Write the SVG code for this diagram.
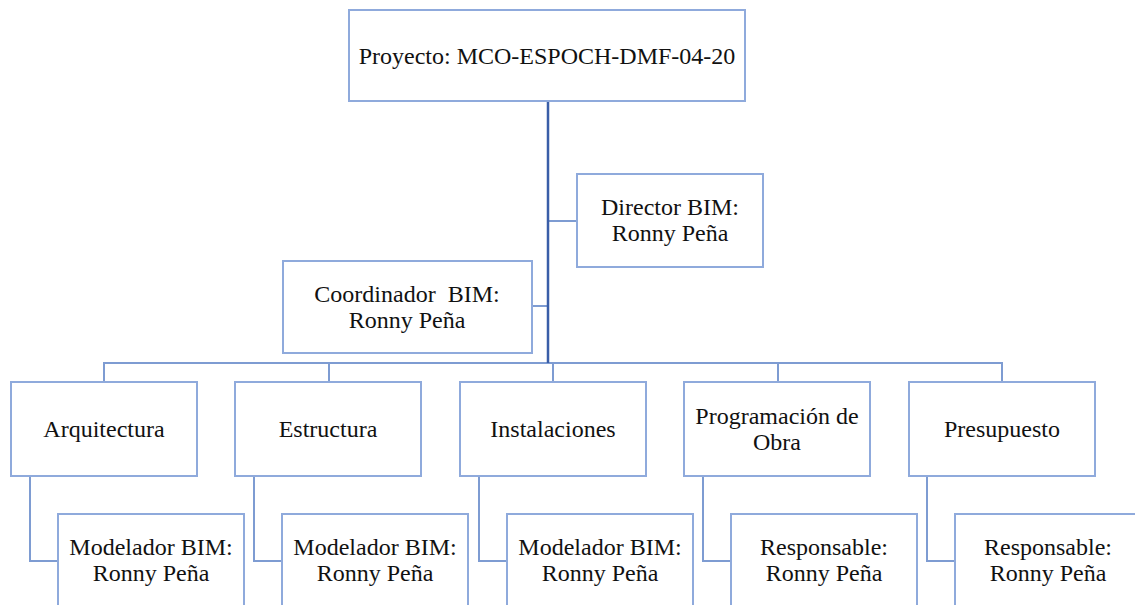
<svg xmlns="http://www.w3.org/2000/svg" width="1135" height="605" viewBox="0 0 1135 605">
<style>
.box{fill:#fff;stroke:#8FAADC;stroke-width:2}
.c{fill:none;stroke:#7E9CD2;stroke-width:2}
.main{fill:none;stroke:#3A5EA8;stroke-width:2.5}
.t{font-size:24px;fill:#111;text-anchor:middle}
</style>
<rect width="1135" height="605" fill="#fff"/>
<g id="connectors">
<path class="c" d="M548 221H577M532 306H548"/>
<path class="c" d="M104 382V363H1002V382M329 363V382M553 363V382M778 363V382"/>
<path class="c" d="M30 476V561H58M254 476V561H282M479 476V561H507M703 476V561H731M927 476V561H955"/>
<path class="main" d="M548 101V363"/>
</g>
<g font-family="Liberation Serif, DejaVu Serif, serif">
<g id="proyecto"><rect class="box" x="349" y="10" width="396" height="91"/><text class="t" x="547" y="64">Proyecto: MCO-ESPOCH-DMF-04-20</text></g>
<g id="director"><rect class="box" x="577" y="174" width="186" height="93"/><text class="t" x="670" y="215">Director BIM:</text><text class="t" x="670" y="241">Ronny Peña</text></g>
<g id="coordinador"><rect class="box" x="283" y="261" width="249" height="92"/><text class="t" x="407" y="302" xml:space="preserve">Coordinador  BIM:</text><text class="t" x="407" y="328">Ronny Peña</text></g>
<g id="arquitectura"><rect class="box" x="11" y="382" width="186" height="94"/><text class="t" x="104" y="437">Arquitectura</text></g>
<g id="estructura"><rect class="box" x="235" y="382" width="186" height="94"/><text class="t" x="328" y="437">Estructura</text></g>
<g id="instalaciones"><rect class="box" x="460" y="382" width="186" height="94"/><text class="t" x="553" y="437">Instalaciones</text></g>
<g id="programacion"><rect class="box" x="684" y="382" width="186" height="94"/><text class="t" x="777" y="424">Programación de</text><text class="t" x="777" y="450">Obra</text></g>
<g id="presupuesto"><rect class="box" x="909" y="382" width="186" height="94"/><text class="t" x="1002" y="437">Presupuesto</text></g>
<g id="modelador1"><rect class="box" x="58" y="514" width="186" height="110"/><text class="t" x="151" y="555">Modelador BIM:</text><text class="t" x="151" y="581">Ronny Peña</text></g>
<g id="modelador2"><rect class="box" x="282" y="514" width="186" height="110"/><text class="t" x="375" y="555">Modelador BIM:</text><text class="t" x="375" y="581">Ronny Peña</text></g>
<g id="modelador3"><rect class="box" x="507" y="514" width="186" height="110"/><text class="t" x="600" y="555">Modelador BIM:</text><text class="t" x="600" y="581">Ronny Peña</text></g>
<g id="responsable1"><rect class="box" x="731" y="514" width="186" height="110"/><text class="t" x="824" y="555">Responsable:</text><text class="t" x="824" y="581">Ronny Peña</text></g>
<g id="responsable2"><rect class="box" x="955" y="514" width="186" height="110"/><text class="t" x="1048" y="555">Responsable:</text><text class="t" x="1048" y="581">Ronny Peña</text></g>
</g>
</svg>
